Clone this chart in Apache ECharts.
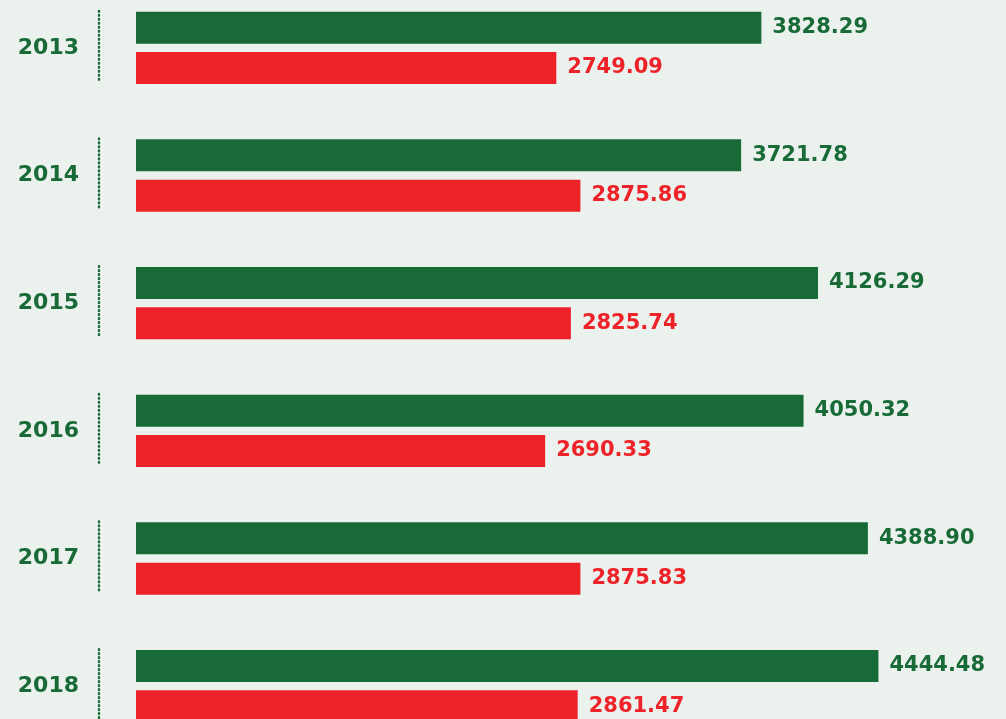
<!DOCTYPE html>
<html>
<head>
<meta charset="utf-8">
<script src="https://cdn.jsdelivr.net/npm/echarts@6/dist/echarts.min.js"></script>
<style>
  html, body { margin: 0; padding: 0; background: #ebf1ed; }
  #main { width: 1006px; height: 719px; }
</style>
</head>
<body>
<div id="main"></div>
<script>
var years = ["2013", "2014", "2015", "2016", "2017", "2018"];
var greenValues = [3828.29, 3721.78, 4126.29, 4050.32, 4388.90, 4444.48];
var redValues = [2749.09, 2875.86, 2825.74, 2690.33, 2875.83, 2861.47];

var GREEN = "#186a37";
var RED = "#ee232a";

var chartDom = document.getElementById("main");
var myChart = echarts.init(chartDom);
var option;

function fmt(p) {
  return p.value.toFixed(2);
}

option = {
  backgroundColor: "#ebf1ed",
  animation: false,
  grid: {
    left: 136,
    right: 22,
    top: -16,
    height: 766,
    outerBoundsMode: "none",
    containLabel: false
  },
  xAxis: {
    type: "value",
    min: 537,
    max: 5000,
    show: false
  },
  yAxis: {
    type: "category",
    data: years,
    inverse: true,
    axisLine: { show: false },
    axisTick: { show: false },
    axisLabel: {
      margin: 57,
      color: GREEN,
      fontFamily: "DejaVu Sans",
      fontWeight: "bold",
      fontSize: 22
    }
  },
  series: [
    {
      name: "green",
      type: "bar",
      data: greenValues,
      barWidth: 32,
      barGap: "26%",
      itemStyle: { color: GREEN },
      label: {
        show: true,
        position: "right",
        distance: 11,
        color: GREEN,
        fontFamily: "DejaVu Sans",
        fontWeight: "bold",
        fontSize: 21,
        formatter: fmt
      }
    },
    {
      name: "red",
      type: "bar",
      data: redValues,
      barWidth: 32,
      itemStyle: { color: RED },
      label: {
        show: true,
        position: "right",
        distance: 11,
        color: RED,
        fontFamily: "DejaVu Sans",
        fontWeight: "bold",
        fontSize: 21,
        formatter: fmt
      }
    },
    {
      // dotted marker next to each year
      type: "custom",
      silent: true,
      clip: false,
      data: years.map(function (y, i) { return [537, i]; }),
      encode: { x: 0, y: 1 },
      renderItem: function (params, api) {
        var pt = api.coord([api.value(0), api.value(1)]);
        var x = pt[0] - 37;
        return {
          type: "line",
          shape: { x1: x, y1: pt[1] - 37, x2: x, y2: pt[1] + 35 },
          style: {
            stroke: GREEN,
            lineWidth: 2.4,
            lineDash: [0.8, 3.2],
            lineCap: "round"
          }
        };
      }
    }
  ]
};

option && myChart.setOption(option);
</script>
</body>
</html>
